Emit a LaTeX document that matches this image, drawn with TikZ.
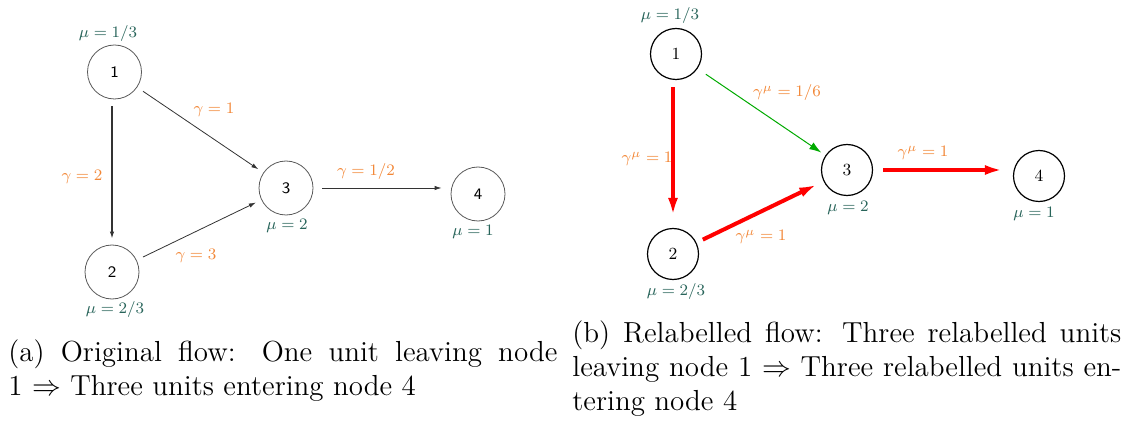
\documentclass[tikz,border=0pt]{standalone}
\usetikzlibrary{arrows.meta}
\definecolor{gcol}{RGB}{242,135,55}
\definecolor{mcol}{RGB}{40,100,90}
\definecolor{grn}{RGB}{0,170,0}
\begin{document}
\begin{tikzpicture}[x=0.5pt,y=-0.5pt,
 lnode/.style={circle,draw=black!65,line width=0.4pt,minimum size=27pt,inner sep=0pt,font=\sffamily\fontsize{8}{9.6}\selectfont},
 rnode/.style={circle,draw=black,line width=0.6pt,minimum size=25.5pt,inner sep=0pt,font=\fontsize{8.5}{10}\selectfont},
 mulab/.style={text=mcol,font=\fontsize{8}{9.6}\selectfont,inner sep=0pt},
 glab/.style={text=gcol,font=\fontsize{8}{9.6}\selectfont,inner sep=0pt},
 thinarr/.style={draw=black!80,line width=0.4pt,-{Latex[length=3.5pt,width=2.2pt]},shorten <=3.5pt,shorten >=3pt},
 redarr/.style={draw=red,line width=2pt,-{Latex[length=9pt,width=5pt]},shorten <=4pt,shorten >=4pt},
 grnarr/.style={draw=grn,line width=0.5pt,-{Latex[length=6pt,width=4pt]},shorten <=5pt,shorten >=2.5pt},
 captext/.style={anchor=base west,inner sep=0pt,font=\fontsize{14.5}{17.2}\selectfont}
]
\useasboundingbox (0,0) rectangle (1123,422);
% ---- left picture
\node[lnode] (a1) at (114.5,72) {1};
\node[lnode] (a2) at (112,272) {2};
\node[lnode] (a3) at (286,188) {3};
\node[lnode] (a4) at (478,194) {4};
\node[mulab] (am1) at (108,34) {$\mu=1/3$};
\node[mulab] (am2) at (115,309) {$\mu=2/3$};
\node[mulab] (am3) at (287,226) {$\mu=2$};
\node[mulab] (am4) at (473,232) {$\mu=1$};
\draw[thinarr,line width=0.6pt] (a2 |- a1.south) -- (a2.north);
\draw[thinarr] (a1) -- (a3);
\draw[thinarr] (a2) -- (a3);
\draw[thinarr,shorten <=4.5pt,shorten >=4.5pt] (a3.east) -- (a3.east -| a4.west);
\node[glab] (ag12) at (82,177) {$\gamma=2$};
\node[glab] (ag13) at (214,110) {$\gamma=1$};
\node[glab] (ag23) at (196,256) {$\gamma=3$};
\node[glab] (ag34) at (366,172) {$\gamma=1/2$};
% ---- right picture
\node[rnode] (b1) at (676,54) {1};
\node[rnode] (b2) at (673,254) {2};
\node[rnode] (b3) at (847,170) {3};
\node[rnode] (b4) at (1039,176) {4};
\node[mulab] (bm1) at (670,16) {$\mu=1/3$};
\node[mulab] (bm2) at (676,291) {$\mu=2/3$};
\node[mulab] (bm3) at (848,208) {$\mu=2$};
\node[mulab] (bm4) at (1034,214) {$\mu=1$};
\draw[redarr,shorten <=3.5pt,shorten >=6pt] (b2 |- b1.south) -- (b2.north);
\draw[grnarr] (b1) -- (b3);
\draw[redarr,shorten <=3.5pt,shorten >=3.5pt] (b2) -- (b3);
\draw[redarr,shorten <=5pt,shorten >=5pt] (b3.east) -- (b3.east -| b4.west);
\node[glab] (bg12) at (647,159) {$\gamma^\mu=1$};
\node[glab] (bg13) at (787,93) {$\gamma^\mu=1/6$};
\node[glab] (bg23) at (761,237) {$\gamma^\mu=1$};
\node[glab] (bg34) at (923,153) {$\gamma^\mu=1$};
% ---- captions
\node[captext] (capa) at (8,361) {\parbox[t]{274.5pt}{(a) Original flow: One unit leaving node\linebreak 1 $\Rightarrow$ Three units entering node 4}};
\node[captext] (capb) at (572,342) {\parbox[t]{274.5pt}{(b) Relabelled flow: Three relabelled units\linebreak leaving node 1 $\Rightarrow$ Three relabelled units en-\linebreak tering node 4}};
\end{tikzpicture}
\end{document}
